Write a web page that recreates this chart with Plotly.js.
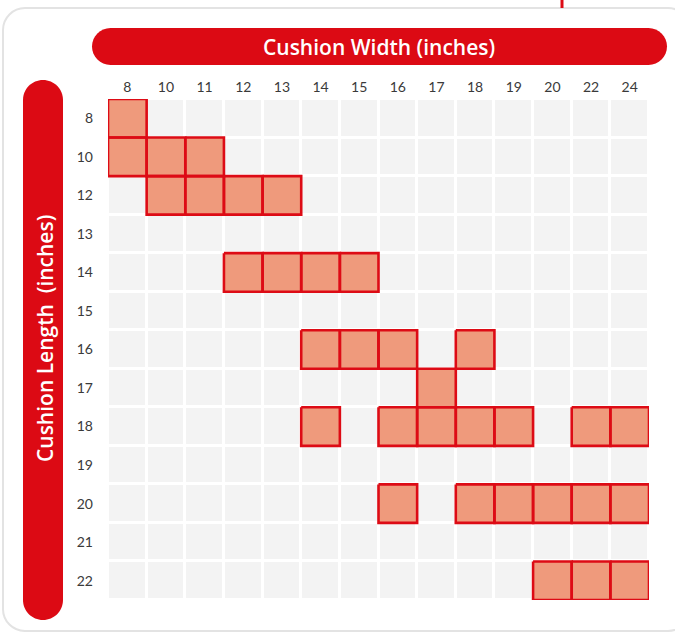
<!DOCTYPE html>
<html>
<head>
<meta charset="utf-8">
<script src="https://cdn.plot.ly/plotly-3.0.1.min.js"></script>
<style>html,body{margin:0;padding:0;background:#fff;}#chart{width:675px;height:632px;}</style>
</head>
<body>
<div id="chart"></div>
<script>
// Column categories (cushion width, inches)
const widths = ['8','10','11','12','13','14','15','16','17','18','19','20','22','24'];
// Row categories (cushion length, inches)
const lengths = ['8','10','12','13','14','15','16','17','18','19','20','21','22'];
// Available sizes: paired arrays (length, width)
const availLength = ['8','10','10','10','12','12','12','12','14','14','14','14','16','16','16','16','17','18','18','18','18','18','18','18','20','20','20','20','20','20','22','22','22'];
const availWidth  = ['8','8','10','11','10','11','12','13','12','13','14','15','14','15','16','18','17','14','16','17','18','19','22','24','16','18','19','20','22','24','20','22','24'];

const W = 675, H = 632;
const M = {l:108, r:26, t:99, b:32};
const pw = W - M.l - M.r, ph = H - M.t - M.b;
const PX = x => (x - M.l) / pw;
const PY = y => (H - M.b - y) / ph;

function roundRect(x0, y0, x1, y1, r) {
  const k = 0.5523 * r;
  const pts = [
    ['M', [x0 + r, y0]],
    ['L', [x1 - r, y0]],
    ['C', [x1 - r + k, y0], [x1, y0 + r - k], [x1, y0 + r]],
    ['L', [x1, y1 - r]],
    ['C', [x1, y1 - r + k], [x1 - r + k, y1], [x1 - r, y1]],
    ['L', [x0 + r, y1]],
    ['C', [x0 + r - k, y1], [x0, y1 - r + k], [x0, y1 - r]],
    ['L', [x0, y0 + r]],
    ['C', [x0, y0 + r - k], [x0 + r - k, y0], [x0 + r, y0]]
  ];
  return pts.map(p => p[0] + p.slice(1).map(q => PX(q[0]).toFixed(5) + ',' + PY(q[1]).toFixed(5)).join(' ')).join(' ') + ' Z';
}

// Background grid heatmap
const zBg = lengths.map(() => widths.map(() => 1));
const bg = {
  type: 'heatmap',
  x: widths.map((_, i) => i),
  y: lengths.map((_, j) => j),
  z: zBg,
  colorscale: [[0, '#f3f3f3'], [1, '#f3f3f3']],
  showscale: false,
  xgap: 3, ygap: 3,
  hoverinfo: 'skip'
};

// Filled cells as closed polygons in data coordinates
const xs = [], ys = [];
availLength.forEach((l, n) => {
  const i = widths.indexOf(availWidth[n]);
  const j = lengths.indexOf(l);
  xs.push(i - 0.5, i + 0.5, i + 0.5, i - 0.5, i - 0.5, null);
  ys.push(j - 0.5, j - 0.5, j + 0.5, j + 0.5, j - 0.5, null);
});
const cells = {
  type: 'scatter',
  mode: 'lines',
  x: xs, y: ys,
  fill: 'toself',
  fillcolor: '#ef9a7c',
  line: {color: '#dd0b15', width: 2.6},
  connectgaps: false,
  hoverinfo: 'skip'
};

const tickFont = {family: 'Lato, "Open Sans", sans-serif', size: 14, color: '#3a3a3a'};
const titleFont = {family: '"Open Sans", sans-serif', size: 21, color: '#ffffff', weight: 600};

const layout = {
  width: W, height: H,
  margin: M,
  paper_bgcolor: '#ffffff',
  plot_bgcolor: '#ffffff',
  showlegend: false,
  xaxis: {
    range: [-0.5, widths.length - 0.5],
    side: 'top',
    tickvals: widths.map((_, i) => i),
    ticktext: widths,
    showgrid: false, zeroline: false, showline: false,
    ticks: '', ticklabelstandoff: 3,
    tickfont: tickFont,
    fixedrange: true
  },
  yaxis: {
    range: [lengths.length - 0.5, -0.5],
    tickvals: lengths.map((_, j) => j),
    ticktext: lengths,
    showgrid: false, zeroline: false, showline: false,
    ticks: '', ticklabelstandoff: 14,
    tickfont: tickFont,
    fixedrange: true
  },
  shapes: [
    {type: 'path', xref: 'paper', yref: 'paper', path: roundRect(3, 8, 690, 631, 22),
     line: {color: '#e3e3e3', width: 2}, fillcolor: 'rgba(0,0,0,0)', layer: 'below'},
    {type: 'line', xref: 'paper', yref: 'paper', x0: PX(562), x1: PX(562), y0: PY(0), y1: PY(8),
     line: {color: '#dd0b15', width: 3}},
    {type: 'path', xref: 'paper', yref: 'paper', path: roundRect(92, 28, 667, 65, 18.5),
     line: {width: 0}, fillcolor: '#dc0a14', layer: 'below'},
    {type: 'path', xref: 'paper', yref: 'paper', path: roundRect(23, 80, 63, 620, 20),
     line: {width: 0}, fillcolor: '#dc0a14', layer: 'below'}
  ],
  annotations: [
    {xref: 'paper', yref: 'paper', x: PX(379), y: PY(47), showarrow: false,
     text: 'Cushion Width (inches)', xanchor: 'center', yanchor: 'middle', font: titleFont},
    {xref: 'paper', yref: 'paper', x: PX(45), y: PY(339), showarrow: false,
     text: 'Cushion Length\u00A0 (inches)', textangle: -90, xanchor: 'center', yanchor: 'middle', font: titleFont}
  ]
};

Plotly.newPlot('chart', [bg, cells], layout, {displayModeBar: false, staticPlot: true});
</script>
</body>
</html>
